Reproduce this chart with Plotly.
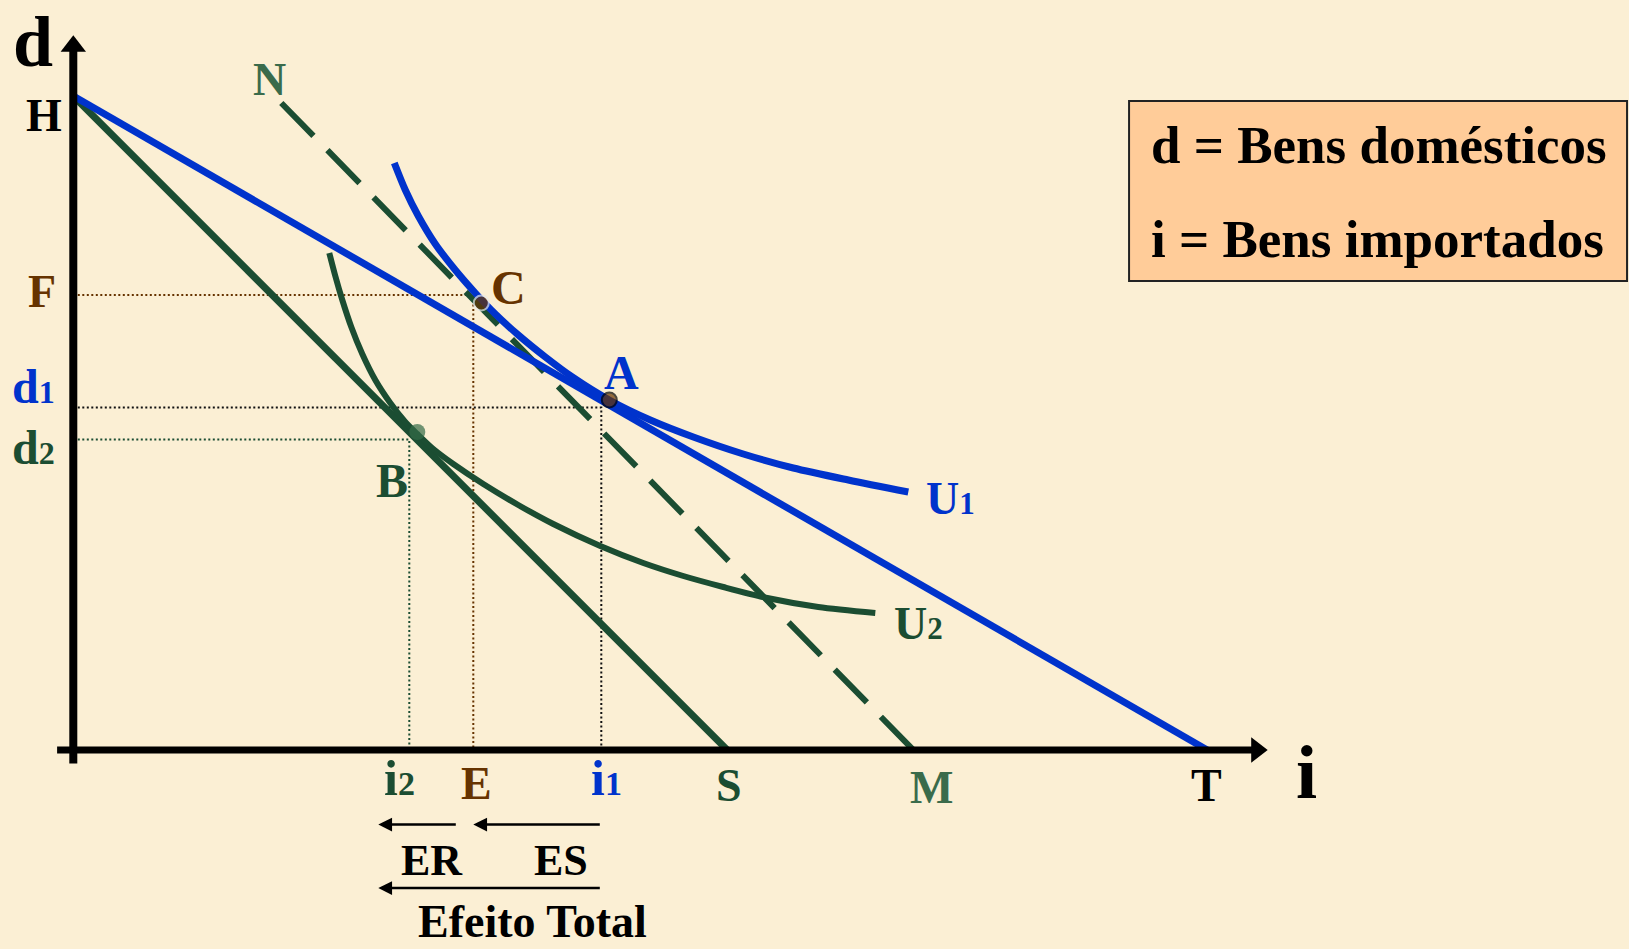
import plotly.graph_objects as go

# ---------------- values (i = imported goods, d = domestic goods) ----------------
H_d = 65.4                 # d-intercept shared by the two budget lines
T_i = 113.4                # original budget line H-T
S_i = 65.4                 # budget line after imports get dearer, H-S
N_i, N_d = 20.8, 64.7      # compensated budget line N-M (dashed)
M_i = 84.0

U1_i = [32.1, 33.2, 34.5, 36.2, 38.2, 40.2, 42.2, 44.5, 47.2, 49.9, 53.6, 57.7, 62.0, 67.0, 72.0, 77.5, 83.5]
U1_d = [58.7, 56.0, 53.4, 50.6, 48.0, 45.7, 43.6, 41.5, 39.3, 37.3, 35.0, 33.0, 31.3, 29.6, 28.2, 27.0, 25.8]
U2_i = [25.6, 26.2, 26.9, 27.8, 28.9, 30.2, 31.7, 33.2, 34.4, 36.0, 38.0, 41.0, 44.5, 48.0, 52.7, 57.0, 61.0, 65.0, 69.4, 74.5, 80.2]
U2_d = [49.7, 47.4, 45.0, 42.3, 39.6, 37.0, 34.7, 32.8, 31.6, 30.1, 28.6, 26.6, 24.5, 22.6, 20.4, 18.7, 17.4, 16.3, 15.2, 14.3, 13.7]

point_names = ["A", "C", "B"]
point_i = [53.6, 40.8, 34.4]
point_d = [35.0, 44.7, 31.8]

d1, i1 = 34.25, 52.8       # bundle A read on the axes
F_d, E_i = 45.5, 40.0      # bundle C read on the axes
d2, i2 = 31.05, 33.6       # bundle B read on the axes

effect_names = ["ER", "ES", "Efeito Total"]
effect_from = [38.4, 52.8, 52.8]
effect_to = [30.5, 40.0, 30.5]

legend_lines = ["d = Bens domésticos", "i = Bens importados"]

# ---------------- style ----------------
BLUE = "#0033CC"
GREEN = "#1B4D32"
LIGHT_GREEN = "#3A6B4B"
BROWN = "#663300"
BG = "#FBEFD4"
FONT = "Liberation Serif, Times New Roman, serif"
PX = 10.0                  # pixels per unit on both axes
W, H = 1629, 949
X0, Y0 = 73.3, 750.0       # pixel position of the origin

x_range = [-X0 / PX, (W - X0) / PX]
y_range = [-(H - Y0) / PX, Y0 / PX]

fig = go.Figure()


def line(xs, ys, color, width, dash="solid", shape="linear"):
    fig.add_trace(go.Scatter(x=xs, y=ys, mode="lines", hoverinfo="skip",
                             line=dict(color=color, width=width, dash=dash, shape=shape,
                                       smoothing=0.8)))


# dotted guides
line([0, E_i, E_i], [F_d, F_d, 0], BROWN, 2, dash="2px,2.5px")
line([0, i1, i1], [d1, d1, 0], "#111111", 2, dash="2px,2.5px")
line([0, i2, i2], [d2, d2, 0], GREEN, 2, dash="2px,2.5px")

# budget lines
line([0, S_i], [H_d, 0], GREEN, 7)
line([N_i, M_i], [N_d, 0], GREEN, 6, dash="46px,20px")
line([0, T_i], [H_d, 0], BLUE, 7)

# indifference curves
line(U2_i, U2_d, GREEN, 6, shape="spline")
line(U1_i, U1_d, BLUE, 7, shape="spline")

# axes with arrow heads
x_tip, y_tip = 119.9, 71.9
line([0, 0], [-1.36, y_tip - 1.5], "#000000", 8)
line([-1.62, x_tip - 1.5], [0, 0], "#000000", 7)
fig.add_trace(go.Scatter(x=[0], y=[y_tip - 1.53], mode="markers", hoverinfo="skip",
                         marker=dict(symbol="triangle-up", size=22, color="#000000")))
fig.add_trace(go.Scatter(x=[x_tip - 1.56], y=[0], mode="markers", hoverinfo="skip",
                         marker=dict(symbol="triangle-right", size=22, color="#000000")))

# bundles
fig.add_trace(go.Scatter(x=point_i, y=point_d, mode="markers", hoverinfo="skip",
                         marker=dict(size=[15, 15, 16],
                                     color=[BROWN, BROWN, "#336B47"],
                                     line=dict(color=["#000000", "#E8E8E8", "#336B47"],
                                               width=[2, 2, 0]))))

ann = []


def label(text, x, y, color, size, anchor="center"):
    ann.append(dict(x=x, y=y, xref="x", yref="y", text="<b>" + text + "</b>",
                    showarrow=False, xanchor=anchor, yanchor="middle",
                    font=dict(family=FONT, size=size, color=color)))


def sub(main, s, size):
    return main + "<span style='font-size:%dpx'>%s</span>" % (int(size * 0.68), s)


label("d", -4.08, 70.8, "#000000", 72)
label("i", 123.3, -2.2, "#000000", 76)
label("H", -2.97, 63.5, "#000000", 46)
label("F", -3.17, 45.9, BROWN, 46)
label(sub("d", "1", 48), -4.03, 36.35, BLUE, 48)
label(sub("d", "2", 48), -4.03, 30.3, GREEN, 48)
label("N", 19.57, 67.1, LIGHT_GREEN, 46)
label(point_names[1], 43.5, 46.25, BROWN, 48)
label(point_names[0], 54.8, 37.75, BLUE, 48)
label(point_names[2], 31.85, 27.0, GREEN, 48)
label(sub("U", "1", 46), 87.7, 25.2, BLUE, 46)
label(sub("U", "2", 46), 84.55, 12.7, GREEN, 46)
label(sub("i", "2", 50), 32.6, -2.8, GREEN, 50)
label("E", 40.27, -3.35, BROWN, 46)
label(sub("i", "1", 50), 53.3, -2.8, BLUE, 50)
label("S", 65.6, -3.5, GREEN, 46)
label("M", 85.8, -3.7, LIGHT_GREEN, 46)
label("T", 113.3, -3.5, "#000000", 46)

# substitution / income / total effect arrows
arrow_y = [-7.45, -7.45, -13.8]
for fr, to, yy in zip(effect_from, effect_to, arrow_y):
    ann.append(dict(x=to, y=yy, ax=fr, ay=yy, xref="x", yref="y", axref="x", ayref="y",
                    text="", showarrow=True, arrowhead=2, arrowsize=1.1, arrowwidth=2.5,
                    arrowcolor="#000000", standoff=0, startstandoff=0))
label(effect_names[0], 35.85, -11.07, "#000000", 44)
label(effect_names[1], 48.8, -11.07, "#000000", 44)
label(effect_names[2], 45.9, -17.1, "#000000", 46)

# legend box
fig.add_shape(type="rect", xref="paper", yref="paper", x0=0.6931, x1=0.9988,
              y0=0.7039, y1=0.8936, fillcolor="#FFCC99",
              line=dict(color="#222222", width=2), layer="above")
for txt, yp in zip(legend_lines, [0.8472, 0.7479]):
    ann.append(dict(x=0.7053, y=yp, xref="paper", yref="paper", text="<b>" + txt + "</b>",
                    showarrow=False, xanchor="left", yanchor="middle",
                    font=dict(family=FONT, size=53, color="#000000")))

fig.update_layout(
    width=W, height=H, margin=dict(l=0, r=0, t=0, b=0),
    paper_bgcolor=BG, plot_bgcolor=BG, showlegend=False,
    xaxis=dict(range=x_range, visible=False, fixedrange=True),
    yaxis=dict(range=y_range, visible=False, fixedrange=True),
    annotations=ann,
)

fig.write_html("out.html")
